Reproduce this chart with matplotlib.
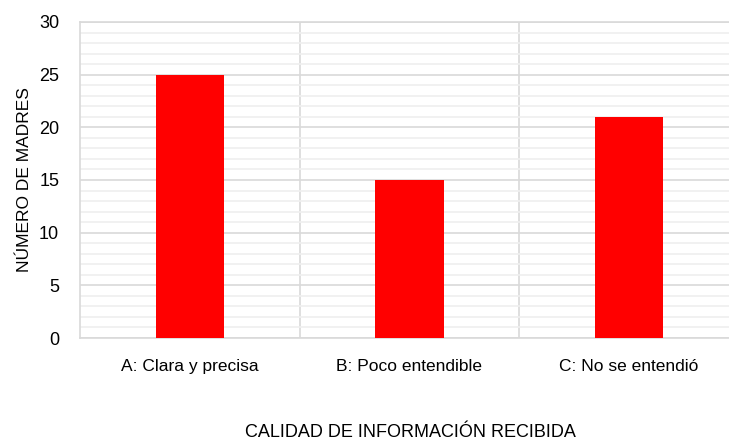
import numpy as np
import matplotlib.pyplot as plt
from matplotlib.ticker import MultipleLocator

categories = ["A: Clara y precisa", "B: Poco entendible", "C: No se entendió"]
madres = [25, 15, 21]

plt.rcParams['font.family'] = ['Liberation Sans', 'DejaVu Sans']

W, H = 729, 444
fig = plt.figure(figsize=(W / 100, H / 100), dpi=100)
# plot area runs a little past the right edge, as in the original
ax = fig.add_axes([80 / W, (H - 338) / H, 659 / W, 316 / H])

x = np.arange(len(categories))
ax.bar(x, madres, width=0.31, color='#ff0000', zorder=3)

ax.set_xlim(-0.5, len(categories) - 0.5)
ax.set_ylim(0, 30)
ax.yaxis.set_major_locator(MultipleLocator(5))
ax.yaxis.set_minor_locator(MultipleLocator(1))
ax.set_xticks(x)
ax.set_xticklabels(categories, fontsize=12.5)
ax.tick_params(axis='y', labelsize=13, length=0, pad=15)
ax.tick_params(axis='y', which='minor', length=0)
ax.tick_params(axis='x', length=0, pad=15)

ax.grid(axis='y', which='major', color='#d9d9d9', linewidth=1.2, zorder=0)
ax.grid(axis='y', which='minor', color='#efefef', linewidth=1.2, zorder=0)
for b in [0.5, 1.5]:
    ax.axvline(b, color='#d9d9d9', linewidth=1.2, zorder=1)

for side in ['top', 'left', 'bottom']:
    ax.spines[side].set_color('#d9d9d9')
    ax.spines[side].set_linewidth(1.2)
ax.spines['right'].set_visible(False)

ax.set_ylabel("NÚMERO DE MADRES", fontsize=12.5, labelpad=5)
fig.text(410 / W, 1 - 432 / H, "CALIDAD DE INFORMACIÓN RECIBIDA",
         fontsize=13, ha='center', va='center')

fig.savefig("out.png", dpi=100)
